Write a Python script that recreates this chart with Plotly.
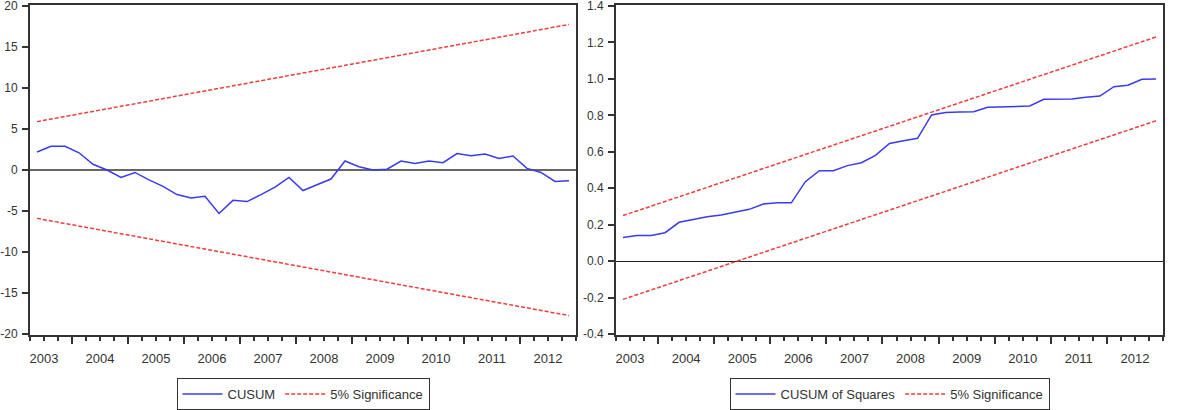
import plotly.graph_objects as go
import pandas as pd

# ---------------- data ----------------
quarters = [str(p) for p in pd.period_range("2003Q2", "2012Q4", freq="Q")]
years = list(range(2003, 2013))

cusum = [2.2, 2.9, 2.9, 2.1, 0.7, 0.0, -0.9, -0.3, -1.2, -2.0,
         -3.0, -3.4, -3.2, -5.3, -3.7, -3.85, -3.0, -2.1, -0.9, -2.5,
         -1.8, -1.1, 1.1, 0.4, 0.0, 0.1, 1.1, 0.8, 1.1, 0.9,
         2.0, 1.75, 1.95, 1.4, 1.7, 0.2, -0.3, -1.4, -1.3]
cusum_upper = [5.9, 17.75]     # first and last observation
cusum_lower = [-5.9, -17.75]

cusumsq = [0.13, 0.14, 0.14, 0.156, 0.213, 0.229, 0.244, 0.253, 0.268, 0.284,
           0.313, 0.32, 0.32, 0.436, 0.496, 0.496, 0.524, 0.54, 0.58, 0.646,
           0.661, 0.674, 0.802, 0.815, 0.818, 0.82, 0.844, 0.847, 0.849, 0.851,
           0.888, 0.89, 0.89, 0.899, 0.906, 0.957, 0.965, 0.998, 1.0]
sq_upper = [0.25, 1.23]
sq_lower = [-0.21, 0.77]

cusum_yticks = [20, 15, 10, 5, 0, -5, -10, -15, -20]
cusum_ytext = ["20", "15", "10", "5", "0", "-5", "-10", "-15", "-20"]
sq_yticks = [1.4, 1.2, 1.0, 0.8, 0.6, 0.4, 0.2, 0.0, -0.2, -0.4]
sq_ytext = ["1.4", "1.2", "1.0", "0.8", "0.6", "0.4", "0.2", "0.0", "-0.2", "-0.4"]

# ---------------- positions derived from the quarter list ----------------
idx = list(range(len(quarters)))
ends = [idx[0], idx[-1]]
q1_index = {}
for i, q in enumerate(quarters):
    y, qq = int(q[:4]), int(q[-1])
    q1_index.setdefault(y, i - (qq - 1))
year_centers = [q1_index[y] + 1.5 for y in years]
year_bounds = [q1_index[y] - 0.5 for y in years[1:]]
xr = [idx[0] - 0.5, idx[-1] + 0.5]

BLUE = "#3a3af0"
RED = "#f03c3c"
DARK = "#333333"
FONT = "Liberation Sans, Arial, sans-serif"

fig = go.Figure()
fig.add_trace(go.Scatter(x=idx, y=cusum, mode="lines", name="CUSUM",
                         line=dict(color=BLUE, width=1.5),
                         xaxis="x", yaxis="y", legend="legend"))
fig.add_trace(go.Scatter(x=ends, y=cusum_upper, mode="lines", name="5% Significance",
                         line=dict(color=RED, width=1.5, dash="4px,2px"),
                         xaxis="x3", yaxis="y", legend="legend"))
fig.add_trace(go.Scatter(x=ends, y=cusum_lower, mode="lines", name="5% Significance",
                         line=dict(color=RED, width=1.5, dash="4px,2px"),
                         xaxis="x3", yaxis="y", showlegend=False, legend="legend"))

fig.add_trace(go.Scatter(x=idx, y=cusumsq, mode="lines", name="CUSUM of Squares",
                         line=dict(color=BLUE, width=1.5),
                         xaxis="x2", yaxis="y2", legend="legend2"))
fig.add_trace(go.Scatter(x=ends, y=sq_upper, mode="lines", name="5% Significance",
                         line=dict(color=RED, width=1.5, dash="4px,2px"),
                         xaxis="x4", yaxis="y2", legend="legend2"))
fig.add_trace(go.Scatter(x=ends, y=sq_lower, mode="lines", name="5% Significance",
                         line=dict(color=RED, width=1.5, dash="4px,2px"),
                         xaxis="x4", yaxis="y2", showlegend=False, legend="legend2"))

W, H = 1177, 410
PAD = 1.3  # px of slack so the end ticks stay inside the range
domL = [30 / W, 576 / W]
domR = [616 / W, 1163 / W]
domY = [1 - (334 + PAD) / H, 1 - (6 - PAD) / H]
plot_h = 334 - 6

def padded(lo, hi):
    e = (hi - lo) * PAD / plot_h
    return [lo - e, hi + e]

def tick_axis(dom, anchor):
    return dict(domain=dom, anchor=anchor, range=xr, showgrid=False, zeroline=False,
                automargin=False,
                showline=True, linewidth=2, linecolor=DARK, mirror=True,
                tickmode="array", tickvals=year_bounds, showticklabels=False,
                ticks="outside", ticklen=7, tickwidth=1.5, tickcolor=DARK,
                minor=dict(ticks="outside", tickmode="linear", tick0=0.5, dtick=1,
                           ticklen=4, tickwidth=1.5, tickcolor=DARK, showgrid=False))

def label_axis(over, anchor):
    return dict(overlaying=over, anchor=anchor, range=xr, showgrid=False, zeroline=False,
                automargin=False,
                showline=False, tickmode="array", tickvals=year_centers,
                ticktext=[str(y) for y in years], ticks="outside", ticklen=11,
                tickcolor="rgba(0,0,0,0)", tickfont=dict(size=13, color=DARK, family=FONT))

def y_axis(rng, tv, tt, anchor, zw, zc, standoff):
    return dict(domain=domY, anchor=anchor, range=padded(*rng), showgrid=False,
                automargin=False,
                zeroline=True, zerolinecolor=zc, zerolinewidth=zw,
                showline=True, linewidth=2, linecolor=DARK, mirror=True,
                tickmode="array", tickvals=tv, ticktext=tt,
                ticks="outside", ticklen=6, tickwidth=1.5, tickcolor=DARK,
                ticklabelstandoff=standoff, ticklabeloverflow="allow",
                tickfont=dict(size=12, color=DARK, family=FONT))

legend_common = dict(orientation="h", yanchor="middle", y=1 - 394 / H, xanchor="center",
                     bordercolor=DARK, borderwidth=1, bgcolor="white",
                     font=dict(size=13, color=DARK, family=FONT), itemwidth=40)

fig.update_layout(
    width=W, height=H, margin=dict(l=0, r=0, t=0, b=0, autoexpand=False),
    paper_bgcolor="white", plot_bgcolor="white",
    xaxis=tick_axis(domL, "y"),
    xaxis3=label_axis("x", "y"),
    xaxis2=tick_axis(domR, "y2"),
    xaxis4=label_axis("x2", "y2"),
    yaxis=y_axis([-20, 20], cusum_yticks, cusum_ytext, "x", 2, "#666666", 2),
    yaxis2=y_axis([-0.4, 1.4], sq_yticks, sq_ytext, "x2", 1.2, "#222222", 2),
    legend=dict(x=(domL[0] + domL[1]) / 2, **legend_common),
    legend2=dict(x=(domR[0] + domR[1]) / 2, **legend_common),
    font=dict(family=FONT, color=DARK),
)

fig.write_html("out.html")
